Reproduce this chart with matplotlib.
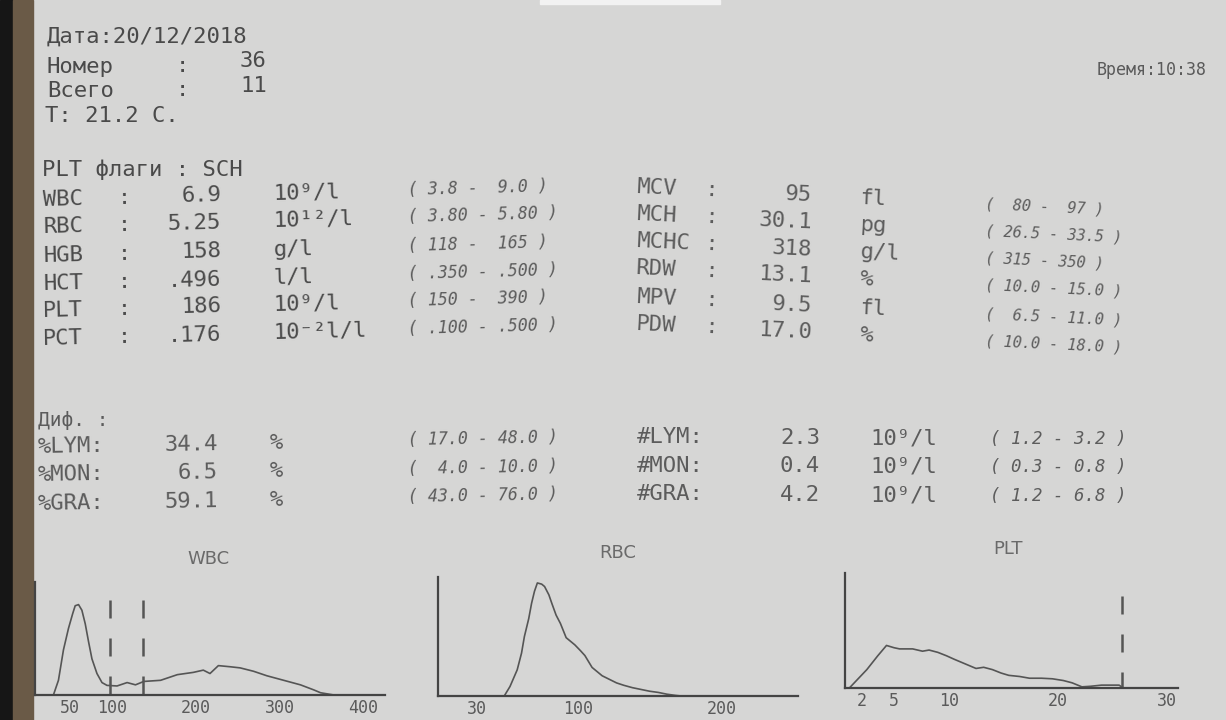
import matplotlib.pyplot as plt
from matplotlib.patches import Rectangle

# --- printed report values ---
head_lines = ["Дата:20/12/2018", "Номер", "Всего", "T: 21.2 C."]
sample_no = "36"
total_no = "11"
time_str = "Время:10:38"
plt_flags = "PLT флаги : SCH"

left_names = ["WBC", "RBC", "HGB", "HCT", "PLT", "PCT"]
left_values = ["6.9", "5.25", "158", ".496", "186", ".176"]
left_units = ["10⁹/l", "10¹²/l", "g/l", "l/l", "10⁹/l", "10⁻²l/l"]
left_ranges = ["( 3.8 -  9.0 )", "( 3.80 - 5.80 )", "( 118 -  165 )",
               "( .350 - .500 )", "( 150 -  390 )", "( .100 - .500 )"]

right_names = ["MCV", "MCH", "MCHC", "RDW", "MPV", "PDW"]
right_values = ["95", "30.1", "318", "13.1", "9.5", "17.0"]
right_units = ["fl", "pg", "g/l", "%", "fl", "%"]
right_ranges = ["(  80 -  97 )", "( 26.5 - 33.5 )", "( 315 - 350 )",
                "( 10.0 - 15.0 )", "(  6.5 - 11.0 )", "( 10.0 - 18.0 )"]

diff_pct_names = ["%LYM:", "%MON:", "%GRA:"]
diff_pct_values = ["34.4", "6.5", "59.1"]
diff_pct_ranges = ["( 17.0 - 48.0 )", "(  4.0 - 10.0 )", "( 43.0 - 76.0 )"]
diff_abs_names = ["#LYM:", "#MON:", "#GRA:"]
diff_abs_values = ["2.3", "0.4", "4.2"]
diff_abs_ranges = ["( 1.2 - 3.2 )", "( 0.3 - 0.8 )", "( 1.2 - 6.8 )"]

# --- histograms (fL, relative height %) ---
wbc_fl = [30, 36, 42, 48, 53, 56, 60, 64, 68, 72, 76, 82, 88, 94, 106, 118, 128,
          138, 158, 178, 197, 209, 217, 227, 241, 253, 269, 285, 305, 325, 341,
          349, 361, 365]
wbc_cnt = [0, 13, 40, 59, 72, 79, 80, 75, 63, 47, 32, 19, 11, 8.5, 8, 11, 9,
           12, 13, 18, 20, 22, 19, 26, 25, 24, 21, 17, 13, 9, 4.5, 2, 0.5, 0]
wbc_marks = [97, 137]

rbc_fl = [49, 53, 58, 61, 63, 66, 68, 70, 72, 75, 77, 80, 82, 85, 88, 92, 95,
          98, 102, 105, 110, 114, 117, 122, 127, 132, 138, 144, 150, 156, 162,
          168, 172]
rbc_cnt = [0, 8, 22, 36, 50, 65, 78, 88, 95, 94, 92, 85, 78, 68, 61, 49, 46,
           43, 38, 34, 24, 20, 17, 14, 11, 9, 7, 5.5, 4, 3, 1.5, 0.5, 0]

plt_fl = [0.9, 2.5, 3.5, 4.3, 5.0, 5.5, 6.7, 7.6, 8.2, 9.0, 9.8, 10.5, 11.0,
          12.5, 13.2, 14.0, 14.8, 15.5, 16.5, 17.4, 18.5, 19.5, 20.5, 21.3,
          22.2, 23.0, 24.0, 25.6, 26.0]
plt_cnt = [0, 16, 28, 37, 35, 34, 34, 32, 33, 31, 28, 25, 23, 17, 18, 16, 13,
           11, 10, 8.5, 8.5, 8, 6.5, 4.5, 1, 1.5, 2.5, 2.5, 0]
plt_marks = [25.9]

W, H = 1226, 720
INK = "#4a4a4a"
INK2 = "#5c5c5c"
MONO = "DejaVu Sans Mono"

fig = plt.figure(figsize=(W / 100, H / 100), dpi=100, facecolor="#d6d6d5")

# paper edge / background bits
bg = fig.add_axes([0, 0, 1, 1])
bg.set_xlim(0, W)
bg.set_ylim(H, 0)
bg.axis("off")
bg.add_patch(Rectangle((0, 0), 13, H, color="#161616"))
bg.add_patch(Rectangle((13, 0), 20, H, color="#6a5a47"))
bg.add_patch(Rectangle((540, 0), 180, 4, color="#f2f2f2"))


def put(x, y, s, size=16, ha="left", color=INK, rot=0.0, family=MONO, **kw):
    bg.text(x, y, s, fontsize=size, ha=ha, va="center", color=color,
            family=family, rotation=rot, rotation_mode="anchor", **kw)


# header
put(47, 37, head_lines[0])
put(47, 67, head_lines[1])
put(176, 66, ":")
put(240, 61, sample_no)
put(47, 91, head_lines[2])
put(176, 90, ":")
put(240, 86, total_no)
put(45, 116, head_lines[3])
put(1207, 70, time_str, size=12, ha="right", color="#5a5a5a")
put(42, 170, plt_flags)

# main block, left
for i in range(6):
    y0 = 200 + [0, 27, 56, 84, 111, 139][i]
    tilt = lambda x: y0 - (x - 43) * 0.027
    put(43, tilt(43), left_names[i], rot=1.5)
    put(118, tilt(118), ":", rot=1.5)
    put(221, tilt(221), left_values[i], ha="right", rot=1.5)
    put(273, tilt(273), left_units[i], rot=1.5)
    put(408, tilt(408), left_ranges[i], size=12, color=INK2, rot=1.5,
        style="italic")

# main block, right
for i in range(6):
    y0 = 187 + [0, 27, 54, 81, 110, 137][i]
    tilt = lambda x: y0 + (x - 636) * 0.048
    put(636, tilt(636), right_names[i], color=INK2, rot=-2.7)
    put(705, tilt(705), ":", color=INK2, rot=-2.7)
    put(812, tilt(812), right_values[i], ha="right", color=INK2, rot=-2.7)
    put(860, tilt(860), right_units[i], color=INK2, rot=-2.7)
    put(985, tilt(985), right_ranges[i], size=11, color=INK2, rot=-2.7,
        style="italic")

# differential
put(38, 421, "Диф. :", size=14, color=INK2)
for i in range(3):
    y0 = 447 + 28.5 * i
    tilt = lambda x: y0 - (x - 38) * 0.018
    put(38, tilt(38), diff_pct_names[i], color=INK2, rot=1.0)
    put(218, tilt(218), diff_pct_values[i], ha="right", color=INK2, rot=1.0)
    put(270, tilt(270), "%", color=INK2, rot=1.0)
    put(408, tilt(408), diff_pct_ranges[i], size=12, color=INK2, rot=1.0,
        style="italic")

    y1 = 437 + 28.5 * i
    tilt = lambda x: y1 + (x - 637) * 0.005
    put(637, tilt(637), diff_abs_names[i], color=INK2)
    put(820, tilt(820), diff_abs_values[i], ha="right", color=INK2)
    put(870, tilt(870), "10⁹/l", color=INK2)
    put(990, tilt(990), diff_abs_ranges[i], size=12.5, color=INK2,
        style="italic")


def hist_axes(x0, x1, top, base, xlim, ticks, fl, cnt, marks, title, tx, ty,
              mark_h):
    ax = fig.add_axes([x0 / W, 1 - base / H, (x1 - x0) / W, (base - top) / H])
    ax.patch.set_alpha(0)
    ax.plot(fl, cnt, color="#555555", lw=1.2)
    for m in marks:
        # drawn top-down so the dash pattern starts at the top like the print
        ax.plot([m, m], [mark_h, 0], color="#555555", lw=1.8,
                linestyle=(0, (7.2, 8)))
    ax.set_xlim(*xlim)
    ax.set_ylim(0, 100)
    for s in ["top", "right"]:
        ax.spines[s].set_visible(False)
    for s in ["left", "bottom"]:
        ax.spines[s].set_color("#444444")
        ax.spines[s].set_linewidth(1.6)
    ax.set_yticks([])
    ax.set_xticks(ticks)
    ax.set_xticklabels([str(t) for t in ticks], family=MONO, fontsize=12,
                       color="#5a5a5a")
    ax.tick_params(axis="x", length=0, pad=3)
    put(tx, ty, title, size=13, ha="center", color="#6a6a6a",
        family="DejaVu Sans")
    return ax


hist_axes(35, 385, 582, 695, (8, 426), [50, 100, 200, 300, 400],
          wbc_fl, wbc_cnt, wbc_marks, "WBC", 208, 559, 84)
hist_axes(438, 798, 577, 696, (3, 253), [30, 100, 200],
          rbc_fl, rbc_cnt, [], "RBC", 618, 553, 0)
hist_axes(845, 1178, 573, 688, (0.5, 31), [2, 5, 10, 20, 30],
          plt_fl, plt_cnt, plt_marks, "PLT", 1008, 549, 80)

fig.savefig("out.png", dpi=100, facecolor=fig.get_facecolor())
